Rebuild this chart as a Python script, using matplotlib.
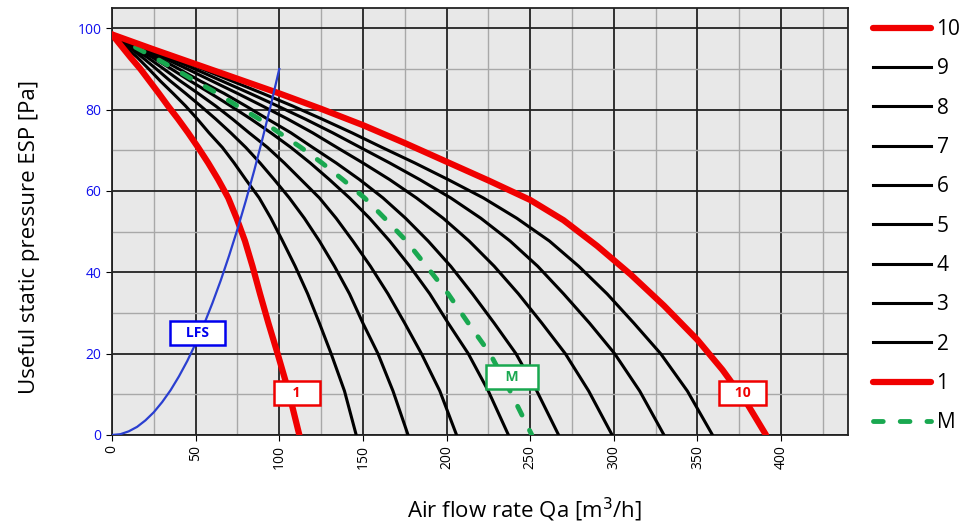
import matplotlib.pyplot as plt
from matplotlib.ticker import MultipleLocator

plt.rcParams['font.family'] = ['Open Sans', 'DejaVu Sans']

# 압력 단계 [Pa] (곡선 1~9, M 공통)
esp_levels = [98.5, 95.7, 92.9, 90.0, 87.0, 84.0, 80.9, 77.7, 74.3, 70.7, 66.9,
              62.8, 58.3, 53.3, 47.7, 41.5, 34.7, 27.5, 20.0, 10.8, 0]

# 속도 단계별 풍량 [m3/h]
curve_1_q = [0, 5.5, 11, 17, 22.5, 28, 33.5, 39.5, 45.5, 51.5, 57.5, 63.5, 69.5, 74.5, 79.5, 84, 88.5, 93.5, 99, 105.5, 112]
curve_2_q = [0, 7, 15, 22, 29, 36.5, 44, 51, 58, 66, 73, 80, 88, 95, 102, 109.5, 117, 124, 131, 139, 146]
curve_3_q = [0, 9, 18, 26.5, 35, 44, 53, 62, 71, 80, 88.5, 97, 106, 115, 124, 133, 142, 150, 159, 168, 177]
curve_4_q = [0, 10, 21, 31, 41, 51.5, 62, 72, 82, 93, 103, 113, 124, 134, 144, 154.5, 165, 175, 185, 196, 206]
curve_5_q = [0, 12, 24, 35.5, 47, 59, 71, 83, 95, 107, 118.5, 130, 142, 154, 166, 178, 190, 201, 213, 225, 237]
curve_6_q = [0, 13, 27, 40, 53, 67, 80, 93, 107, 120, 134, 148, 162, 175.5, 189, 202.5, 215.5, 228.5, 241.5, 254, 267]
curve_7_q = [0, 15, 30, 45, 60, 75, 90, 105, 120, 134.5, 150, 166, 182, 198, 213.5, 228.5, 243, 257, 271, 285, 299]
curve_8_q = [0, 16.5, 33, 49.5, 66, 82.5, 99, 115.5, 132, 148.5, 166, 184, 202.5, 220.5, 238, 254.5, 270, 285.5, 300.5, 315.5, 330]
curve_9_q = [0, 18, 36, 54, 72, 90, 108, 125.5, 143.5, 161.5, 181, 201, 222, 242, 261.5, 279, 296, 312, 328, 344, 359]
curve_m_q = [0, 12.5, 25, 37.5, 50, 63, 75, 88, 100, 113, 125.5, 138, 151, 163, 176, 188, 201, 213, 226, 238, 251]

# 최대 속도 곡선 10
curve_10_q = [0, 25, 50, 75, 100, 125, 150, 175, 200, 225, 250, 270, 290, 310, 330, 350, 365, 380, 391]
curve_10_p = [98.5, 94.8, 91.2, 87.6, 84, 80.2, 76.2, 71.8, 67.2, 62.6, 57.8, 52.8, 46.5, 39.5, 31.8, 23.4, 16, 7.5, 0]

# LFS 곡선
lfs_q = [0, 5, 10, 15, 20, 25, 30, 35, 40, 45, 50, 55, 60, 65, 70, 75, 80, 85, 90, 95, 100]
lfs_p = [0, 0.2, 0.9, 2, 3.6, 5.6, 8.1, 11, 14.4, 18.2, 22.5, 27.2, 32.4, 38, 44.1, 50.6, 57.6, 65, 72.9, 81.2, 90]

black_curves = [("9", curve_9_q), ("8", curve_8_q), ("7", curve_7_q), ("6", curve_6_q),
                ("5", curve_5_q), ("4", curve_4_q), ("3", curve_3_q), ("2", curve_2_q)]

fig = plt.figure(figsize=(9.77, 5.28), dpi=100)
ax = fig.add_axes([112 / 977, 93 / 528, 736 / 977, 427 / 528])
ax.set_facecolor('#e8e8e8')

red = '#f00000'
green = '#19a850'
blue = '#2a3fd0'

handles = []
h10, = ax.plot(curve_10_q, curve_10_p, color=red, lw=4.5, solid_capstyle='round', zorder=5, label='10')
handles.append(h10)
for name, q in black_curves:
    h, = ax.plot(q, esp_levels, color='black', lw=2.2, zorder=3, label=name)
    handles.append(h)
h1, = ax.plot(curve_1_q, esp_levels, color=red, lw=4.5, solid_capstyle='round', zorder=5, label='1')
handles.append(h1)
hm, = ax.plot(curve_m_q, esp_levels, color=green, lw=3.5, dashes=(2, 3.5), dash_capstyle='round', zorder=4, label='M')
handles.append(hm)
ax.plot(lfs_q, lfs_p, color=blue, lw=1.6, zorder=6)

# 박스 라벨
def box_label(x, y, txt, col):
    ax.text(x, y, txt, color=col, fontsize=10, fontweight='bold', ha='center', va='center', zorder=8,
            bbox=dict(boxstyle='square,pad=0.35', facecolor='white', edgecolor=col, linewidth=1.8))

box_label(51, 25, '   LFS   ', '#0000ee')
box_label(110.5, 10.3, '    1    ', red)
box_label(239, 14.3, '    M    ', green)
box_label(377, 10.3, '   10   ', red)

ax.set_xlim(0, 440)
ax.set_ylim(0, 105)
ax.xaxis.set_major_locator(MultipleLocator(50))
ax.xaxis.set_minor_locator(MultipleLocator(25))
ax.yaxis.set_major_locator(MultipleLocator(20))
ax.yaxis.set_minor_locator(MultipleLocator(10))
ax.set_xticks(range(0, 401, 50))
ax.grid(which='major', color='#222222', lw=1.3)
ax.grid(which='minor', color='#a8a8a8', lw=1.0)
ax.set_axisbelow(True)
ax.tick_params(which='minor', length=0)
ax.tick_params(axis='y', colors='black', labelcolor='#1010ee', labelsize=10, length=4)
ax.tick_params(axis='x', labelsize=10, length=4, labelrotation=90)
for s in ax.spines.values():
    s.set_color('#222222')
    s.set_linewidth(1.3)

fig.text(525 / 977, 18 / 528, 'Air flow rate Qa [m$^3$/h]', fontsize=16, ha='center', va='center')
fig.text(30 / 977, 1 - 237 / 528, 'Useful static pressure ESP [Pa]', fontsize=16, rotation=90,
         ha='center', va='center')

fig.legend(handles=handles, loc='upper left', bbox_to_anchor=(873 / 977, 1 - 19 / 528),
           frameon=False, fontsize=15, handlelength=2.8, handletextpad=0.25,
           labelspacing=0.88, borderpad=0, borderaxespad=0)

fig.savefig('out.png', dpi=100)
